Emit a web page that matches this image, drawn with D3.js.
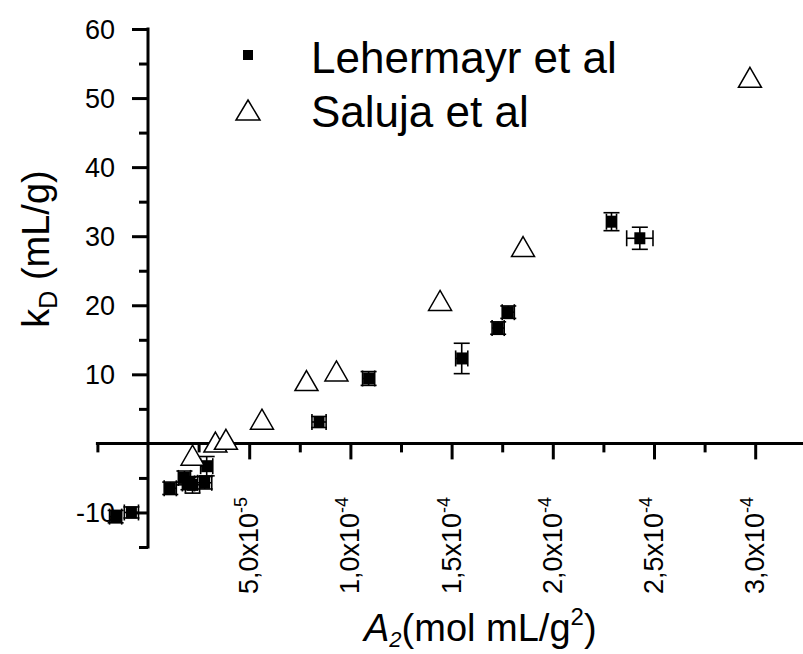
<!DOCTYPE html>
<html>
<head>
<meta charset="utf-8">
<script src="https://cdn.jsdelivr.net/npm/d3@7"></script>
<style>
  body { margin: 0; background: #fff; }
  svg { display: block; font-family: "Liberation Sans", Arial, sans-serif; }
</style>
</head>
<body>
<svg id="chart" width="803" height="654"></svg>
<script>
// Lehermayr et al: A2, kD and their errors
var lehX    = [-1.6e-5, -0.82e-5, 1.1e-5, 1.8e-5, 2.0e-5, 2.2e-5, 2.8e-5, 2.9e-5, 8.45e-5, 1.09e-4, 1.55e-4, 1.73e-4, 1.78e-4, 2.29e-4, 2.43e-4];
var lehY    = [-10.6, -10.0, -6.5, -5.0, -5.8, -6.0, -5.7, -3.3, 3.1, 9.4, 12.3, 16.7, 19.0, 32.1, 29.7];
var lehXErr = [0.3e-5, 0.35e-5, 0.3e-5, 0.3e-5, 0.3e-5, 0.35e-5, 0.35e-5, 0.3e-5, 0.35e-5, 0.3e-5, 0.3e-5, 0.3e-5, 0.3e-5, 0.25e-5, 0.65e-5];
var lehYErr = [0.9, 0.8, 0.9, 1.0, 0.9, 1.2, 0.9, 1.4, 0.8, 1.0, 2.2, 0.9, 0.9, 1.3, 1.6];

// Saluja et al
var salX = [2.2e-5, 3.33e-5, 3.85e-5, 5.63e-5, 7.83e-5, 9.31e-5, 1.443e-4, 1.853e-4, 2.974e-4];
var salY = [-1.7, 0.2, 0.6, 3.5, 9.1, 10.5, 20.7, 28.5, 53.0];

var xMajor = [5e-5, 1e-4, 1.5e-4, 2e-4, 2.5e-4, 3e-4];
var xMantissa = ["5,0", "1,0", "1,5", "2,0", "2,5", "3,0"];
var xExponent = ["-5", "-4", "-4", "-4", "-4", "-4"];
var xMinor = [-2.5e-5, 2.5e-5, 7.5e-5, 1.25e-4, 1.75e-4, 2.25e-4, 2.75e-4];
var yMajor = [-10, 10, 20, 30, 40, 50, 60];
var yMinor = [-15, -5, 5, 15, 25, 35, 45, 55];

var legendNames = ["Lehermayr et al", "Saluja et al"];

var svg = d3.select('#chart');

var x = d3.scaleLinear().domain([-2.5e-5, 3.25e-4]).range([97.4, 805.8]);
var y = d3.scaleLinear().domain([-15, 60]).range([547, 29]);

var black = '#000';

// axes (crossing at the origin)
function styleAxis(g) {
  g.select('.domain').remove();
  g.selectAll('.tick line').attr('stroke', black).attr('stroke-width', 3);
  g.selectAll('.tick text').remove();
}

svg.append('g')
  .attr('transform', 'translate(0,' + y(0) + ')')
  .call(d3.axisBottom(x).tickValues(xMajor).tickSize(16).tickFormat(''))
  .call(styleAxis);
svg.append('g')
  .attr('transform', 'translate(0,' + y(0) + ')')
  .call(d3.axisBottom(x).tickValues(xMinor).tickSize(9).tickFormat(''))
  .call(styleAxis);
svg.append('g')
  .attr('transform', 'translate(' + x(0) + ',0)')
  .call(d3.axisLeft(y).tickValues(yMajor).tickSize(16).tickFormat(''))
  .call(styleAxis);
svg.append('g')
  .attr('transform', 'translate(' + x(0) + ',0)')
  .call(d3.axisLeft(y).tickValues(yMinor).tickSize(9).tickFormat(''))
  .call(styleAxis);

svg.append('line')
  .attr('x1', x(-2.5e-5) - 1.5).attr('x2', 803)
  .attr('y1', y(0)).attr('y2', y(0))
  .attr('stroke', black).attr('stroke-width', 3);
svg.append('line')
  .attr('x1', x(0)).attr('x2', x(0))
  .attr('y1', y(60) - 1.5).attr('y2', y(-15) + 1.5)
  .attr('stroke', black).attr('stroke-width', 3);

// y tick labels
svg.append('g').selectAll('text')
  .data(yMajor).enter().append('text')
  .attr('x', 115)
  .attr('y', function(d) { return y(d); })
  .attr('dy', '0.36em')
  .attr('text-anchor', 'end')
  .attr('font-size', 27)
  .text(function(d) { return d; });

// x tick labels, rotated
var xl = svg.append('g').selectAll('text')
  .data(xMajor).enter().append('text')
  .attr('transform', function(d) { return 'translate(' + (x(d) + 9) + ',497) rotate(-90)'; })
  .attr('text-anchor', 'end')
  .attr('font-size', 27);
xl.append('tspan').text(function(d, i) { return xMantissa[i] + 'x10'; });
xl.append('tspan').attr('font-size', 18).attr('dy', -11).text(function(d, i) { return xExponent[i]; });

// axis titles
var yt = svg.append('text')
  .attr('transform', 'translate(49,249) rotate(-90)')
  .attr('text-anchor', 'middle')
  .attr('font-size', 38);
yt.append('tspan').text('k');
yt.append('tspan').attr('font-size', 25).attr('dy', 8).text('D');
yt.append('tspan').attr('dy', -8).text(' (mL/g)');

var xt = svg.append('text')
  .attr('x', 364).attr('y', 641)
  .attr('font-size', 38);
xt.append('tspan').attr('font-style', 'italic').text('A');
xt.append('tspan').attr('font-style', 'italic').attr('font-size', 22).attr('dy', 6).text('2');
xt.append('tspan').attr('dy', -6).text('(mol mL/g');
xt.append('tspan').attr('font-size', 24).attr('dy', -16).text('2');
xt.append('tspan').attr('dy', 16).text(')');

// Lehermayr error bars and squares
var cap = 8;
var leh = svg.append('g');
lehX.forEach(function(xv, i) {
  var cx = x(xv), cy = y(lehY[i]);
  var y1 = y(lehY[i] + lehYErr[i]), y2 = y(lehY[i] - lehYErr[i]);
  var x1 = x(xv - lehXErr[i]), x2 = x(xv + lehXErr[i]);
  var g = leh.append('g').attr('stroke', black).attr('stroke-width', 1.6);
  g.append('line').attr('x1', cx).attr('x2', cx).attr('y1', y1).attr('y2', y2);
  g.append('line').attr('x1', cx - cap).attr('x2', cx + cap).attr('y1', y1).attr('y2', y1);
  g.append('line').attr('x1', cx - cap).attr('x2', cx + cap).attr('y1', y2).attr('y2', y2);
  g.append('line').attr('x1', x1).attr('x2', x2).attr('y1', cy).attr('y2', cy);
  g.append('line').attr('x1', x1).attr('x2', x1).attr('y1', cy - cap).attr('y2', cy + cap);
  g.append('line').attr('x1', x2).attr('x2', x2).attr('y1', cy - cap).attr('y2', cy + cap);
});
leh.selectAll('rect')
  .data(lehX).enter().append('rect')
  .attr('x', function(d) { return x(d) - 5.5; })
  .attr('y', function(d, i) { return y(lehY[i]) - 6; })
  .attr('width', 11).attr('height', 12)
  .attr('fill', black);

// Saluja triangles
var tri = 'M0,-10L11.5,10L-11.5,10Z';
svg.append('g').selectAll('path')
  .data(salX).enter().append('path')
  .attr('d', tri)
  .attr('transform', function(d, i) { return 'translate(' + x(d) + ',' + y(salY[i]) + ')'; })
  .attr('fill', '#fff').attr('stroke', black).attr('stroke-width', 1.5);

// legend
var lg = svg.append('g');
lg.append('rect').attr('x', 243).attr('y', 50).attr('width', 10).attr('height', 10).attr('fill', black);
lg.append('path').attr('d', 'M0,-10L12,10L-12,10Z')
  .attr('transform', 'translate(248,110)')
  .attr('fill', '#fff').attr('stroke', black).attr('stroke-width', 1.5);
lg.selectAll('text')
  .data(legendNames).enter().append('text')
  .attr('x', 311)
  .attr('y', function(d, i) { return 73 + i * 54; })
  .attr('font-size', 44)
  .text(function(d) { return d; });
</script>
</body>
</html>
